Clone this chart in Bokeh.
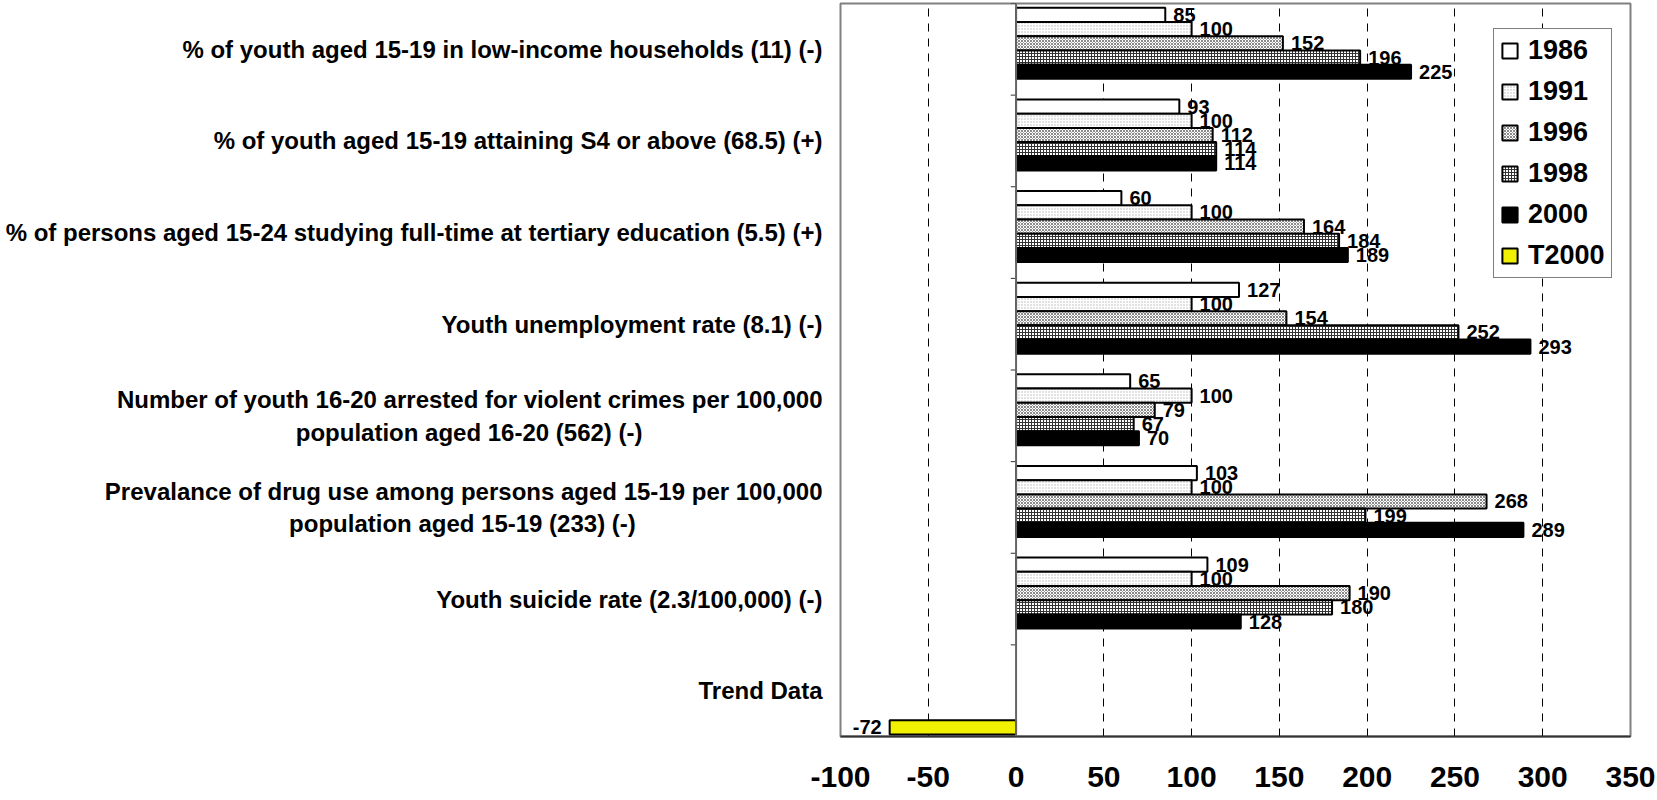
from bokeh.plotting import figure
from bokeh.models import (Range1d, FactorRange, FixedTicker, ColumnDataSource,
                          Legend, LegendItem, Span)
from bokeh.transform import dodge
from bokeh.core.properties import value
from bokeh.embed import file_html
from bokeh.resources import INLINE

# ---- data -----------------------------------------------------------------
indicators = [
    "% of youth aged 15-19 in low-income households (11) (-)",
    "% of youth aged 15-19 attaining S4 or above (68.5) (+)",
    "% of persons aged 15-24 studying full-time at tertiary education (5.5) (+)",
    "Youth unemployment rate (8.1) (-)",
    "Number of youth 16-20 arrested for violent crimes per 100,000\npopulation aged 16-20 (562) (-)",
    "Prevalance of drug use among persons aged 15-19 per 100,000\npopulation aged 15-19 (233) (-)",
    "Youth suicide rate (2.3/100,000) (-)",
    "Trend Data",
]
years = ["1986", "1991", "1996", "1998", "2000", "T2000"]

idx_1986 = [85, 93, 60, 127, 65, 103, 109, None]
idx_1991 = [100, 100, 100, 100, 100, 100, 100, None]
idx_1996 = [152, 112, 164, 154, 79, 268, 190, None]
idx_1998 = [196, 114, 184, 252, 67, 199, 180, None]
idx_2000 = [225, 114, 189, 293, 70, 289, 128, None]
idx_T2000 = [None, None, None, None, None, None, None, -72]

x_ticks = [-100, -50, 0, 50, 100, 150, 200, 250, 300, 350]
grid_ticks = [-50, 50, 100, 150, 200, 250, 300]

series = dict(zip(years, [idx_1986, idx_1991, idx_1996, idx_1998, idx_2000, idx_T2000]))

# ---- styling --------------------------------------------------------------
FONT = "Liberation Sans"
BAR_H = 0.155
offsets = dict(zip(years, [0.375, 0.22, 0.065, -0.09, -0.245, -0.4]))
bar_styles = {
    "1986": dict(fill_color="white"),
    "1991": dict(fill_color="white", hatch_pattern="dot", hatch_color="#b5b5b5",
                 hatch_scale=3, hatch_weight=1),
    "1996": dict(fill_color="white", hatch_pattern="diagonal_cross", hatch_color="#8a8a8a",
                 hatch_scale=3, hatch_weight=1),
    "1998": dict(fill_color="white", hatch_pattern="cross", hatch_color="#333333",
                 hatch_scale=3, hatch_weight=1),
    "2000": dict(fill_color="black"),
    "T2000": dict(fill_color="#f0f000"),
}

# The axis right-aligns every line of a label; trailing no-break spaces on the
# second line pull it back under the middle of the first line.
second_line_pad = {4: 27, 5: 28}


def axis_text(i, name):
    if "\n" not in name:
        return name
    first, second = name.split("\n")
    return first + "\n" + second + "\u00a0" * second_line_pad.get(i, 0)


axis_names = [axis_text(i, c) for i, c in enumerate(indicators)]
y_range = FactorRange(factors=axis_names[::-1])

p = figure(width=1657, height=800, output_backend="svg", toolbar_location=None,
           x_range=Range1d(-100, 350), y_range=y_range,
           min_border_left=840, min_border_right=27, min_border_top=3,
           min_border_bottom=64, background_fill_color="white",
           border_fill_color="white")

p.outline_line_color = "#808080"
p.outline_line_width = 2
p.ygrid.visible = False

yax = p.yaxis[0]
yax.axis_line_color = None
yax.major_tick_out = 0
yax.major_tick_in = 0
yax.minor_tick_out = 0
yax.minor_tick_in = 0
yax.major_label_standoff = 18
yax.major_label_text_font = FONT
yax.major_label_text_font_style = "bold"
yax.major_label_text_font_size = "24px"
yax.major_label_text_color = "black"

p.xgrid.ticker = FixedTicker(ticks=grid_ticks)
p.xgrid.grid_line_color = "black"
p.xgrid.grid_line_dash = "8 7"
p.xgrid.grid_line_width = 1

ax = p.xaxis[0]
ax.ticker = FixedTicker(ticks=x_ticks)
ax.major_label_overrides = {t: str(t) for t in x_ticks}
ax.major_tick_out = 0
ax.major_tick_in = 0
ax.minor_tick_out = 0
ax.minor_tick_in = 0
ax.axis_line_color = "#333333"
ax.axis_line_width = 2
ax.major_label_standoff = 30
ax.major_label_text_font = FONT
ax.major_label_text_font_style = "bold"
ax.major_label_text_font_size = "30px"
ax.major_label_text_color = "black"

# bars and their value labels
legend_items = []
for yr in years:
    vals = series[yr]
    cats = [c for c, v in zip(axis_names, vals) if v is not None]
    nums = [v for v in vals if v is not None]
    src = ColumnDataSource(dict(
        cat=cats, val=nums, lab=[str(v) for v in nums],
        align=["left" if v >= 0 else "right" for v in nums],
        xoff=[8 if v >= 0 else -8 for v in nums],
    ))
    ypos = dodge("cat", offsets[yr], range=y_range)
    r = p.hbar(y=ypos, left=0, right="val", height=BAR_H, source=src,
               line_color="black", line_width=2, **bar_styles[yr])
    p.text(x="val", y=ypos, text="lab", source=src, x_offset="xoff",
           text_align="align", text_baseline="middle", text_font=value(FONT),
           text_font_style="bold", text_font_size="20px", text_color="black")
    legend_items.append(LegendItem(label=yr, renderers=[r]))

# category axis at zero with small ticks on band boundaries
p.add_layout(Span(location=0, dimension="height", line_color="#666666", line_width=2))
bounds = list(range(len(indicators) + 1))
p.segment(x0=[0] * len(bounds), y0=bounds, x1=[-3] * len(bounds), y1=bounds,
          line_color="#333333", line_width=1)

legend = Legend(items=legend_items, location=(653, 458), orientation="vertical",
                border_line_color="black", border_line_width=1,
                background_fill_color="white", background_fill_alpha=1,
                padding=6, spacing=10, margin=0, label_height=31,
                glyph_width=19, glyph_height=19, label_standoff=9,
                label_text_font=FONT, label_text_font_style="bold",
                label_text_font_size="27px", label_text_color="black")
p.add_layout(legend)

open("out.html", "w").write(file_html(p, INLINE))
